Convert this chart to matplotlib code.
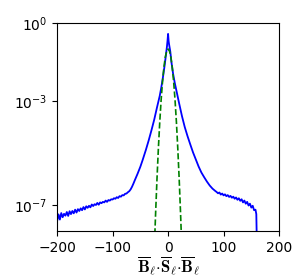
import numpy as np
import matplotlib
matplotlib.use("Agg")
import matplotlib.pyplot as plt
from matplotlib.ticker import NullLocator

plt.rcParams["mathtext.fontset"] = "cm"

# blue curve: x and log10(pdf)
blue_x = [
    -200, -197.5, -195, -192.5, -190, -187.5, -185, -182.5, -180, -177.5,
    -175, -172.5, -170, -167.5, -165, -162.5, -160, -157.5, -155, -152.5,
    -150, -147.5, -145, -142.5, -140, -137.5, -135, -132.5, -130, -127.5,
    -125, -122.5, -120, -117.5, -115, -112.5, -110, -107.5, -105, -102.5,
    -100, -97.5, -95, -92.5, -90, -87.5, -85, -82.5, -80, -77.5,
    -75, -72.5, -70, -67.5, -65, -62.5, -60, -55, -50, -46,
    -40, -35, -30, -25, -20, -15, -12, -9, -6, -4,
    -2, -1, 0, 1, 2, 4, 6, 9, 12, 15,
    20, 25, 30, 35, 40, 45, 50, 55, 60, 65,
    70, 75, 80, 85, 87.5, 90, 92.5, 95, 97.5, 100,
    102.5, 105, 107.5, 110, 112.5, 115, 117.5, 120, 122.5, 125,
    127.5, 130, 132.5, 135, 137.5, 140, 142.5, 145, 147.5, 150,
    152.5, 155, 157.5, 159, 160, 160.5,
]
blue_log = [
    -7.62, -7.36, -7.56, -7.31, -7.47, -7.34, -7.41, -7.27, -7.42, -7.24,
    -7.35, -7.23, -7.32, -7.18, -7.29, -7.16, -7.23, -7.13, -7.20, -7.08,
    -7.17, -7.05, -7.11, -7.03, -7.09, -6.98, -7.04, -6.97, -7.00, -6.92,
    -6.99, -6.90, -6.93, -6.88, -6.90, -6.83, -6.88, -6.81, -6.83, -6.78,
    -6.79, -6.74, -6.76, -6.70, -6.73, -6.66, -6.68, -6.62, -6.63, -6.57,
    -6.56, -6.51, -6.47, -6.40, -6.30, -6.18, -6.05, -5.80, -5.53, -5.28,
    -4.88, -4.52, -4.13, -3.72, -3.25, -2.80, -2.45, -2.05, -1.60, -1.25,
    -0.90, -0.68, -0.42, -0.70, -0.85, -1.10, -1.50, -1.95, -2.30, -2.60,
    -3.10, -3.58, -4.00, -4.35, -4.67, -4.98, -5.25, -5.52, -5.75, -5.93,
    -6.10, -6.25, -6.37, -6.46, -6.50, -6.55, -6.52, -6.60, -6.56, -6.63,
    -6.59, -6.66, -6.62, -6.69, -6.65, -6.72, -6.68, -6.76, -6.71, -6.80,
    -6.74, -6.84, -6.78, -6.90, -6.83, -6.95, -6.88, -7.02, -6.95, -7.10,
    -7.03, -7.20, -7.18, -7.35, -8.50, -9.50,
]

# green dashed reference curve
green_x = [-25, -22.5, -20, -17.5, -15, -12.5, -10, -7.5, -5, -2.5, 0,
           2.5, 5, 7.5, 10, 12.5, 15, 17.5, 20, 22.5, 25]
green_log = [-8.81, -7.33, -6.00, -4.83, -3.81, -2.95, -2.25, -1.70, -1.31, -1.08, -1.00,
             -1.08, -1.31, -1.70, -2.25, -2.95, -3.81, -4.83, -6.00, -7.33, -8.81]

xticks = [-200, -100, 0, 100, 200]
yticks = [1e-7, 1e-3, 1e0]

fig = plt.figure(figsize=(3.07, 2.80), dpi=100)
ax = fig.add_axes([0.186, 0.175, 0.723, 0.743])

ax.plot(blue_x, 10 ** np.array(blue_log), color="blue", lw=1.3)
ax.plot(green_x, 10 ** np.array(green_log), color="green", lw=1.2, ls="--")

ax.set_yscale("log")
ax.set_xlim(-200, 200)
ax.set_ylim(1e-8, 1)
ax.set_xticks(xticks)
ax.set_yticks(yticks)
ax.yaxis.set_minor_locator(NullLocator())
ax.tick_params(labelsize=10)
ax.set_xlabel(r"$\overline{\mathbf{B}}_\ell{\cdot}\overline{\mathbf{S}}_\ell{\cdot}\overline{\mathbf{B}}_\ell$",
              fontsize=12, labelpad=0)

fig.savefig("out.png", dpi=100)
